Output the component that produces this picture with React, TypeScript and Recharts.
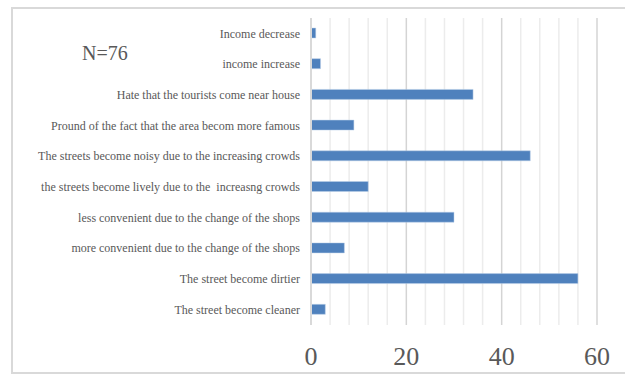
import React from 'react';
import { BarChart, Bar, XAxis, YAxis, CartesianGrid } from 'recharts';

const categories = [
  'Income decrease',
  'income increase',
  'Hate that the tourists come near house',
  'Pround of the fact that the area becom more famous',
  'The streets become noisy due to the increasing crowds',
  'the streets become lively due to the  increasng crowds',
  'less convenient due to the change of the shops',
  'more convenient due to the change of the shops',
  'The street become dirtier',
  'The street become cleaner',
];
const counts = [1, 2, 34, 9, 46, 12, 30, 7, 56, 3];
const xDomain = [0, 60];
const majorTicks = [0, 20, 40, 60];
const minorTicks = [4, 8, 12, 16, 24, 28, 32, 36, 44, 48, 52, 56];

const data = categories.map((name, i) => ({ name, value: counts[i] }));

const SERIF = '"Liberation Serif", "DejaVu Serif", serif';

function CategoryTick(props: any) {
  const { x, y, payload } = props;
  return (
    <text
      x={x}
      y={y}
      dy="0.35em"
      textAnchor="end"
      fontFamily={SERIF}
      fontSize={12}
      fill="#595959"
      style={{ whiteSpace: 'pre' }}
    >
      {payload.value}
    </text>
  );
}

// minor gridlines: use the axis scale when available, otherwise map over the plot offset
const minorGridX = ({ xAxis, offset }: any) =>
  minorTicks.map((t) =>
    typeof xAxis?.scale === 'function'
      ? xAxis.scale(t)
      : offset.left + ((t - xDomain[0]) / (xDomain[1] - xDomain[0])) * offset.width
  );

export default function App() {
  return (
    <div style={{ position: 'absolute', left: 0, top: 0, width: 625, height: 374, overflow: 'hidden', background: '#fff' }}>
      <div
        style={{
          position: 'absolute',
          left: 11,
          top: 7,
          width: 640,
          height: 363,
          border: '2px solid #d9d9d9',
        }}
      />
      <div
        style={{
          position: 'absolute',
          left: 82,
          top: 43,
          fontFamily: SERIF,
          fontSize: 20,
          lineHeight: '20px',
          color: '#595959',
        }}
      >
        N=76
      </div>
      <div style={{ position: 'absolute', left: 0, top: 0 }}>
        <BarChart
          width={625}
          height={374}
          data={data}
          layout="vertical"
          margin={{ top: 18, right: 28, bottom: 0, left: 0 }}
        >
          <CartesianGrid
            horizontal={false}
            stroke="#ececec"
            strokeWidth={1.5}
            verticalCoordinatesGenerator={minorGridX}
          />
          <CartesianGrid horizontal={false} stroke="#d4d4d4" strokeWidth={1.5} />
          <XAxis
            type="number"
            domain={xDomain}
            ticks={majorTicks}
            axisLine={false}
            tickLine={false}
            tickSize={0}
            tickMargin={22}
            height={49}
            tick={{ fontSize: 26, fill: '#595959', fontFamily: SERIF }}
          />
          <YAxis
            type="category"
            dataKey="name"
            width={311}
            tickLine={false}
            tickSize={0}
            tickMargin={11}
            axisLine={{ stroke: '#d9d9d9', strokeWidth: 2 }}
            interval={0}
            tick={<CategoryTick />}
          />
          <Bar dataKey="value" fill="#4f81bd" stroke="#bcd0e8" strokeWidth={0.5} barSize={10} isAnimationActive={false} />
        </BarChart>
      </div>
    </div>
  );
}
